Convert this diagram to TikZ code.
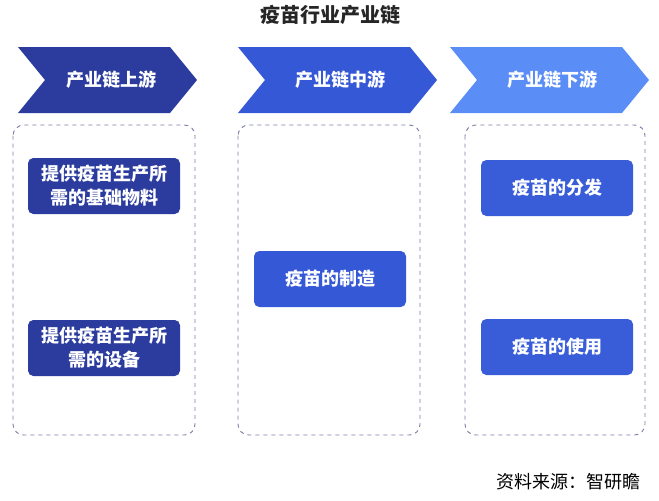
\documentclass[tikz,border=0pt]{standalone}
\usepackage{fontspec}
\setmainfont{Noto Sans CJK SC}
\usetikzlibrary{positioning}
\definecolor{upc}{HTML}{2B3C9E}
\definecolor{midc}{HTML}{3558D6}
\definecolor{downc}{HTML}{5A8DF6}
\definecolor{dashc}{HTML}{7A80A8}
\begin{document}
\begin{tikzpicture}[x=0.75pt,y=-0.75pt]
\tikzset{
  chev/.style={white,font=\bfseries\fontsize{13.5}{15}\selectfont},
  dashbox/.style={draw=dashc,dashed,rounded corners=8pt,line width=0.7pt},
  itembox/.style={rounded corners=4pt,text=white,align=center,minimum height=42pt,
    inner sep=4pt,text width=106pt,font=\bfseries\fontsize{13.5}{18}\selectfont}
}
\useasboundingbox (0,0) rectangle (659,500);
\node[font=\bfseries\fontsize{15}{17}\selectfont,text=black!85] (title) at (330,15) {疫苗行业产业链};
% chevrons
\fill[upc] (18,47) -- (170,47) -- (197,80) -- (170,113) -- (18,113) -- (45,80) -- cycle;
\fill[midc] (238,47) -- (410,47) -- (437,80) -- (410,113) -- (238,113) -- (265,80) -- cycle;
\fill[downc] (450,47) -- (622,47) -- (649,80) -- (622,113) -- (450,113) -- (477,80) -- cycle;
\node[chev] (up) at (111,80) {产业链上游};
\node[chev] (mid) at (340,80) {产业链中游};
\node[chev] (down) at (552,80) {产业链下游};
% dashed frames
\draw[dashbox] (13,125) rectangle (195,435);
\draw[dashbox] (238,125) rectangle (420,435);
\draw[dashbox] (465,125) rectangle (645,435);
% items
\node[itembox,fill=upc] (mat) at (104,186) {提供疫苗生产所\\需的基础物料};
\node[itembox,fill=upc] (equ) at (104,348) {提供疫苗生产所\\需的设备};
\node[itembox,fill=midc] (make) at (330,279) {疫苗的制造};
\node[itembox,fill=midc!90!downc] (dist) at (557,188) {疫苗的分发};
\node[itembox,fill=midc!90!downc] (use) at (557,347) {疫苗的使用};
\node[font=\fontsize{13.5}{15}\selectfont,anchor=east] (src) at (645,482) {资料来源：智研瞻};
\end{tikzpicture}
\end{document}
